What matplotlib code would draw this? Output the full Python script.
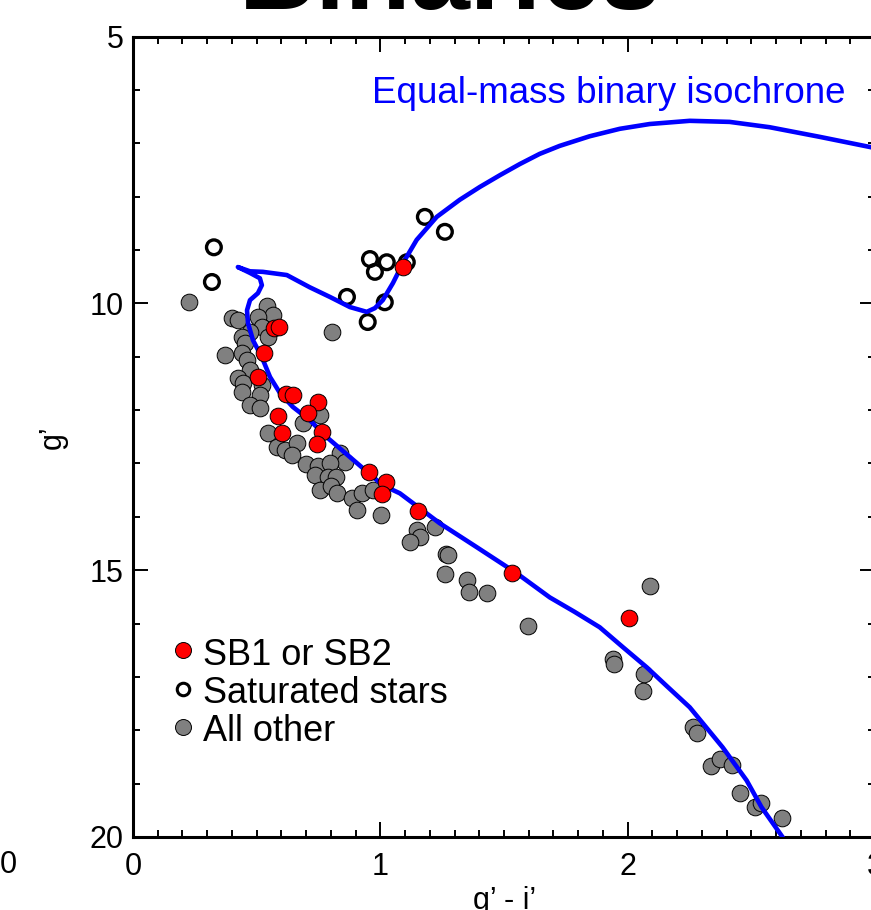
import matplotlib
matplotlib.use("Agg")
import matplotlib.pyplot as plt
from matplotlib.ticker import MultipleLocator, FixedLocator

plt.rcParams['font.family'] = ['Liberation Sans', 'DejaVu Sans']

# ---------------- data ----------------
other_x = [0.226, 0.804, 0.541, 0.566, 0.505, 0.400, 0.424, 0.521, 0.473, 0.440, 0.545, 0.453,
           0.372, 0.440, 0.461, 0.473, 0.424, 0.444, 0.521, 0.440, 0.513, 0.473, 0.513,
           0.756, 0.687, 0.545, 0.582, 0.614, 0.663, 0.642,
           0.836, 0.857, 0.699, 0.748, 0.796, 0.735, 0.788, 0.820, 0.756, 0.800,
           0.824, 0.885, 0.925, 0.970, 0.905, 1.002,
           1.220, 1.147, 1.160, 1.119, 1.265, 1.273, 1.261, 1.349, 1.358, 1.430, 1.596, 2.089,
           1.939, 1.943, 2.065, 2.061, 2.263, 2.279, 2.335, 2.372, 2.420, 2.453, 2.513, 2.541, 2.622]
other_y = [9.98, 10.54, 10.05, 10.22, 10.26, 10.28, 10.32, 10.45, 10.54, 10.63, 10.63, 10.74,
           10.97, 10.93, 11.06, 11.25, 11.40, 11.49, 11.53, 11.66, 11.72, 11.91, 11.96,
           12.09, 12.24, 12.43, 12.69, 12.75, 12.62, 12.84,
           12.81, 12.98, 13.01, 13.05, 12.99, 13.22, 13.26, 13.26, 13.50, 13.43,
           13.56, 13.65, 13.56, 13.50, 13.87, 13.97,
           14.19, 14.25, 14.38, 14.47, 14.70, 14.72, 15.08, 15.19, 15.41, 15.43, 16.05, 15.30,
           16.67, 16.75, 16.95, 17.27, 17.94, 18.05, 18.67, 18.54, 18.65, 19.18, 19.44, 19.37, 19.65]

sb_x = [1.091, 0.570, 0.590, 0.529, 0.505, 0.618, 0.646, 0.747, 0.707, 0.586, 0.602,
        0.764, 0.743, 0.954, 1.022, 1.006, 1.152, 1.531, 2.004]
sb_y = [9.32, 10.46, 10.45, 10.93, 11.38, 11.70, 11.72, 11.85, 12.05, 12.11, 12.43,
        12.41, 12.64, 13.16, 13.35, 13.58, 13.89, 15.06, 15.90]

sat_x = [0.327, 0.319, 0.865, 0.949, 1.018, 0.958, 0.978, 1.026, 1.107, 1.180, 1.261]
sat_y = [8.95, 9.60, 9.88, 10.35, 9.98, 9.17, 9.41, 9.23, 9.23, 8.38, 8.66]

iso_x = [2.660, 2.626, 2.541, 2.481, 2.384, 2.251, 2.160, 2.077, 1.980, 1.887, 1.785, 1.685,
         1.552, 1.390, 1.240, 1.079, 1.010, 0.877, 0.784, 0.715, 0.646, 0.594, 0.554, 0.521,
         0.485, 0.465, 0.461, 0.473, 0.505, 0.521, 0.513, 0.473, 0.424, 0.473, 0.525, 0.622,
         0.715, 0.796, 0.877, 0.945, 0.978, 1.010, 1.051, 1.091, 1.147, 1.228, 1.321, 1.402,
         1.483, 1.564, 1.644, 1.725, 1.846, 1.968, 2.089, 2.251, 2.412, 2.574, 2.776, 3.000]
iso_y = [20.50, 20.00, 19.44, 18.94, 18.32, 17.57, 17.18, 16.82, 16.44, 16.07, 15.78, 15.51,
         15.06, 14.57, 14.12, 13.56, 13.41, 12.88, 12.51, 12.19, 11.94, 11.68, 11.38, 11.01,
         10.69, 10.37, 10.13, 9.94, 9.81, 9.66, 9.53, 9.43, 9.32, 9.40, 9.41, 9.47,
         9.70, 9.88, 10.07, 10.16, 10.09, 9.94, 9.62, 9.25, 8.81, 8.38, 8.06, 7.82,
         7.60, 7.39, 7.20, 7.05, 6.87, 6.73, 6.64, 6.58, 6.60, 6.70, 6.88, 7.09]

x_ticks = [0, 1, 2, 3]
y_ticks = [5, 10, 15, 20]
legend_labels = ["SB1 or SB2", "Saturated stars", "All other"]
iso_label = "Equal-mass binary isochrone"

# ---------------- figure ----------------
W, H = 871, 910
fig = plt.figure(figsize=(W / 100, H / 100), dpi=100)
ax = fig.add_axes([133 / W, 1 - 837 / H, 742 / W, 800.5 / H])

ms_fill = 12.0
ax.scatter(other_x, other_y, s=ms_fill ** 2, facecolor='#808080', edgecolor='black',
           linewidth=0.7, zorder=2)
ax.scatter(sat_x, sat_y, s=10.6 ** 2, facecolor='none', edgecolor='black',
           linewidth=2.4, zorder=3)
ax.plot(iso_x, iso_y, color='#0000ff', linewidth=3.3, zorder=4,
        solid_joinstyle='round', solid_capstyle='butt')
ax.scatter(sb_x, sb_y, s=ms_fill ** 2, facecolor='#ff0000', edgecolor='black',
           linewidth=0.7, zorder=5)

ax.set_xlim(0, 3)
ax.set_ylim(20, 5)
ax.xaxis.set_major_locator(FixedLocator(x_ticks))
ax.yaxis.set_major_locator(FixedLocator(y_ticks))
ax.xaxis.set_minor_locator(MultipleLocator(0.1))
ax.yaxis.set_minor_locator(MultipleLocator(1))
ax.set_xticklabels([str(t) for t in x_ticks])
ax.set_yticklabels([str(t) for t in y_ticks])

ax.tick_params(which='both', direction='in', top=True, right=True, width=1.4,
               color='black', labelsize=22)
ax.tick_params(which='major', length=10.8)
ax.tick_params(which='minor', length=5.0)
ax.tick_params(axis='x', pad=10.5)
ax.tick_params(axis='y', pad=6.5)
for sp in ax.spines.values():
    sp.set_linewidth(2.2)

ax.set_xlabel("g\u2019 - i\u2019", fontsize=22)
ax.xaxis.set_label_coords((505 - 133) / 742, (837 - 886) / 800.5)
ax.set_ylabel("g\u2019", fontsize=22)
ax.yaxis.set_label_coords((68 - 133) / 742, 0.5)

ax.text(0.966, 6.25, iso_label, color='#0000ff', fontsize=26.5, ha='left', va='baseline',
        zorder=6)

# legend (manual, matching the original layout)
leg_rows = [(665, 650), (703, 689), (741, 727)]
styles = [dict(marker='o', ms=11.5, mfc='#ff0000', mec='black', mew=0.7),
          dict(marker='o', ms=9.0, mfc='none', mec='black', mew=2.2),
          dict(marker='o', ms=11.5, mfc='#808080', mec='black', mew=0.7)]
for (base, cen), lab, st in zip(leg_rows, legend_labels, styles):
    ax.plot([(183 - 133) / 742], [(837 - cen) / 800.5], transform=ax.transAxes,
            linestyle='none', zorder=7, clip_on=False, **st)
    ax.text((203 - 133) / 742, (837 - base) / 800.5, lab, transform=ax.transAxes,
            fontsize=26, ha='left', va='baseline', zorder=7)

# cut-off title and neighbour-panel label
fig.text(450 / W, 1 - 9 / H, "Binaries", fontsize=77, fontweight='bold',
         ha='center', va='baseline')
fig.text(8 / W, 1 - 865 / H, "0", fontsize=22, ha='center', va='center')

fig.savefig("out.png", dpi=100)
